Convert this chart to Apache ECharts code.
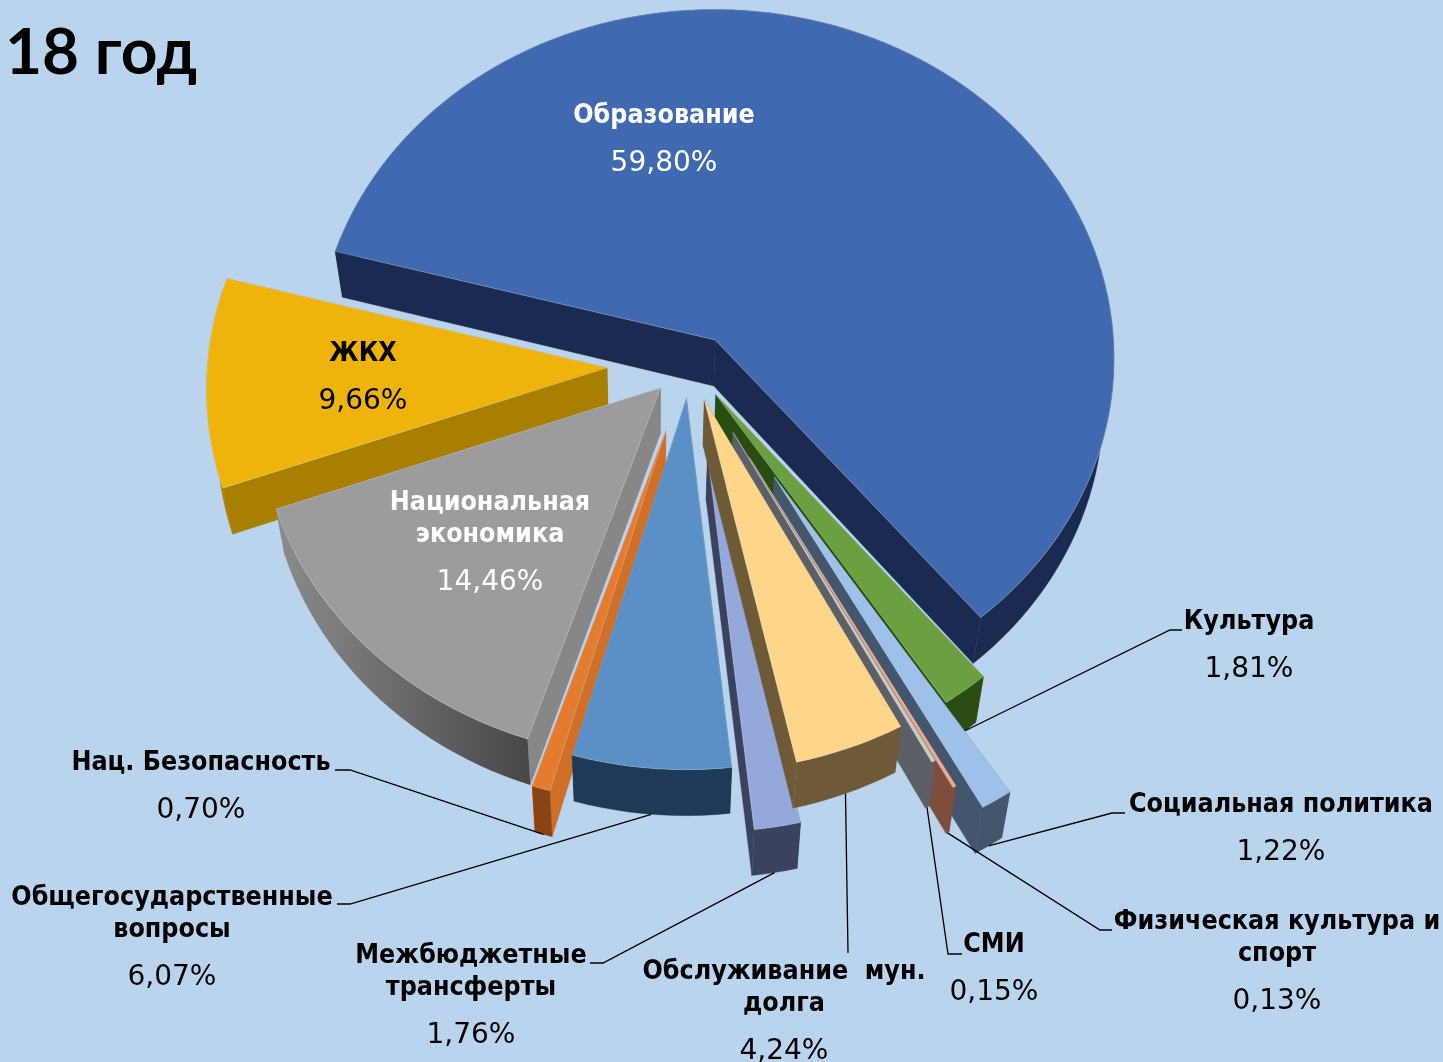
<!DOCTYPE html>
<html>
<head>
<meta charset="utf-8">
<title>18 год</title>
<style>
    html, body { margin: 0; padding: 0; background: #bad4ee; }
    #chart { width: 1443px; height: 1062px; }
</style>
<script src="https://cdn.jsdelivr.net/npm/echarts@6/dist/echarts.min.js"></script>
</head>
<body>
<div id="chart"></div>
<script>
// данные диаграммы (по часовой стрелке, начиная с "Образование")
const names = [
    'Образование', 'Культура', 'Социальная политика', 'Физическая культура и\nспорт', 'СМИ',
    'Обслуживание  мун.\nдолга', 'Межбюджетные\nтрансферты', 'Общегосударственные\nвопросы',
    'Нац. Безопасность', 'Национальная\nэкономика', 'ЖКХ'
];
const values = [59.80, 1.81, 1.22, 0.13, 0.15, 4.24, 1.76, 6.07, 0.70, 14.46, 9.66];

// вынос секторов от центра и его поворот в градусах
const explode = [0.10, 0.087, 0.358, 0.28, 0.20, 0.088, 0.24, 0.083, 0.186, 0.10, 0.22];
const explodeTurn = [-2, 0, -2, 0, 0, 5, 2, 10, 6, 15, 4];
// порядок рисования, дальние раньше
const drawRank = [0, 6, 7, 8, 9, 10, 5, 4, 3, 2, 1];

const topColors = ['#4069b0', '#6ba040', '#9dc1e8', '#efa98a', '#c9c9c4', '#ffd58a', '#95a8dc', '#5b90c7', '#e37c2f', '#9c9c9c', '#efb40c'];
const radialColors = ['#1a2a50', '#294c10', '#43566e', '#7e4e3c', '#5c6066', '#6f5a37', '#3b4260', '#1f3a58', '#cf6f28', '#878787', '#a97f00'];
const outerColors = ['#1a2a50', '#2b4c12', '#43566e', '#7e4e3c', '#5c6066', '#6f5a37', '#3b4260', '#1f3a58', '#8a4412', '#8c8c8c', '#a97f00'];
const outerColorsEnd = ['#1a2a50', '#2b4c12', '#43566e', '#7e4e3c', '#5c6066', '#6f5a37', '#3b4260', '#1f3a58', '#8a4412', '#474747', '#a97f00'];

// подписи: x, y первой строки и цвет
const labelX = [664, 1249, 1281, 1277, 994, 784, 471, 172, 201, 490, 363];
const labelY = [116, 622, 805, 922, 945, 972, 956, 898, 763, 503, 354];
const labelColors = ['#fff', '#000', '#000', '#000', '#000', '#000', '#000', '#000', '#000', '#fff', '#000'];
// выноски: точки излома, пустой список - без выноски
const leaders = [
    [], [[1170, 630], [1182, 630]], [[1112, 813], [1125, 813]], [[1100, 930], [1112, 930]],
    [[948, 954], [962, 954]], [[848, 953]], [[603, 963], [590, 963]],
    [[350, 904], [337, 904]], [[350, 770], [335, 770]], [], []
];
// где выноска отходит от дуги сектора, доля его ширины
const leaderAt = [0.5, 0.3, 0.5, 0.5, 0.5, 0.5, 0.5, 0.5, 0.5, 0.5, 0.5];

const cx = 695, cy = 370, rx = 400, ry = 350;
const persp = 0.05, depth = 46, vanishX = 650, shrink = 0.023;
const startAngle = 285;

const total = values.reduce((a, b) => a + b, 0);
const starts = [];
values.reduce((sum, v, i) => {
    starts[i] = startAngle + sum / total * 360;
    return sum + v;
}, 0);

// точка сектора: угол в градусах, r от вершины, z=0 верх, z=1 низ
function project(i, deg, r, z) {
    const mid = (starts[i] + values[i] / total * 180 + explodeTurn[i]) * Math.PI / 180;
    const a = deg * Math.PI / 180;
    const u = explode[i] * Math.sin(mid) + r * Math.sin(a);
    const v = explode[i] * Math.cos(mid) + r * Math.cos(a);
    const w = 1 / (1 + persp * v);
    const x = cx + rx * u * w;
    const y = cy - ry * v * w;
    return [x + (vanishX - x) * shrink * z, y + depth * z];
}

function arc(i, a1, a2, z) {
    const pts = [];
    const steps = Math.max(1, Math.ceil((a2 - a1) / 2));
    for (let s = 0; s <= steps; s++) {
        pts.push(project(i, a1 + (a2 - a1) * s / steps, 1, z));
    }
    return pts;
}

function renderSlice(params, api) {
    const i = params.dataIndex;
    const a1 = starts[i];
    const a2 = a1 + api.value(0) / total * 360;
    const z2 = drawRank[i] * 10;
    const poly = (points, fill, stroke, z) => ({
        type: 'polygon',
        z2: z2 + z,
        shape: { points },
        style: { fill, stroke: stroke || (typeof fill === 'string' ? fill : 'none'), lineWidth: stroke ? 0.8 : 0.3 }
    });
    const apexT = project(i, 0, 0, 0);
    const apexB = project(i, 0, 0, 1);
    const topArc = arc(i, a1, a2, 0);
    const bottomArc = arc(i, a1, a2, 1);
    const outerFill = outerColors[i] === outerColorsEnd[i] ? outerColors[i] : new echarts.graphic.LinearGradient(0, 0, 1, 0, [
        { offset: 0, color: outerColors[i] },
        { offset: 1, color: outerColorsEnd[i] }
    ]);
    return {
        type: 'group',
        children: [
            poly([apexT, topArc[0], bottomArc[0], apexB], radialColors[i], null, 0),
            poly([apexT, topArc[topArc.length - 1], bottomArc[bottomArc.length - 1], apexB], radialColors[i], null, 1),
            poly(topArc.concat(bottomArc.slice().reverse()), outerFill, null, 2),
            poly([apexT].concat(topArc), topColors[i], 'rgba(225,235,245,0.35)', 3)
        ]
    };
}

function percentText(v) {
    return v.toFixed(2).replace('.', ',') + '%';
}

function renderLabel(params, api) {
    const i = params.dataIndex;
    const lines = names[i].split('\n');
    const children = [];
    const anchor = starts[i] + api.value(0) / total * 360 * leaderAt[i];
    if (leaders[i].length) {
        children.push({
            type: 'polyline',
            shape: { points: [project(i, anchor, 1, 1)].concat(leaders[i]) },
            style: { fill: 'none', stroke: '#000', lineWidth: 1.3 }
        });
    }
    lines.forEach((line, n) => {
        children.push({
            type: 'text',
            style: {
                x: labelX[i], y: labelY[i] + n * 32, text: line, fill: labelColors[i],
                font: 'bold 26.6px "DejaVu Sans Condensed", "DejaVu Sans"', align: 'center', verticalAlign: 'middle'
            }
        });
    });
    children.push({
        type: 'text',
        style: {
            x: labelX[i], y: labelY[i] + (lines.length - 1) * 32 + 48, text: percentText(api.value(0)), fill: labelColors[i],
            font: '28px "DejaVu Sans"', align: 'center', verticalAlign: 'middle'
        }
    });
    return { type: 'group', children };
}

const chart = echarts.init(document.getElementById('chart'));
chart.setOption({
    backgroundColor: '#bad4ee',
    animation: false,
    title: {
        text: '18 год',
        left: 0,
        top: 16,
        textStyle: { color: '#000', fontSize: 64, fontWeight: 'bold', fontFamily: 'Lato' }
    },
    series: [
        { type: 'custom', coordinateSystem: 'none', silent: true, z: 2, data: values.map(v => [v]), renderItem: renderSlice },
        { type: 'custom', coordinateSystem: 'none', silent: true, z: 3, data: values.map(v => [v]), renderItem: renderLabel }
    ]
});
</script>
</body>
</html>
